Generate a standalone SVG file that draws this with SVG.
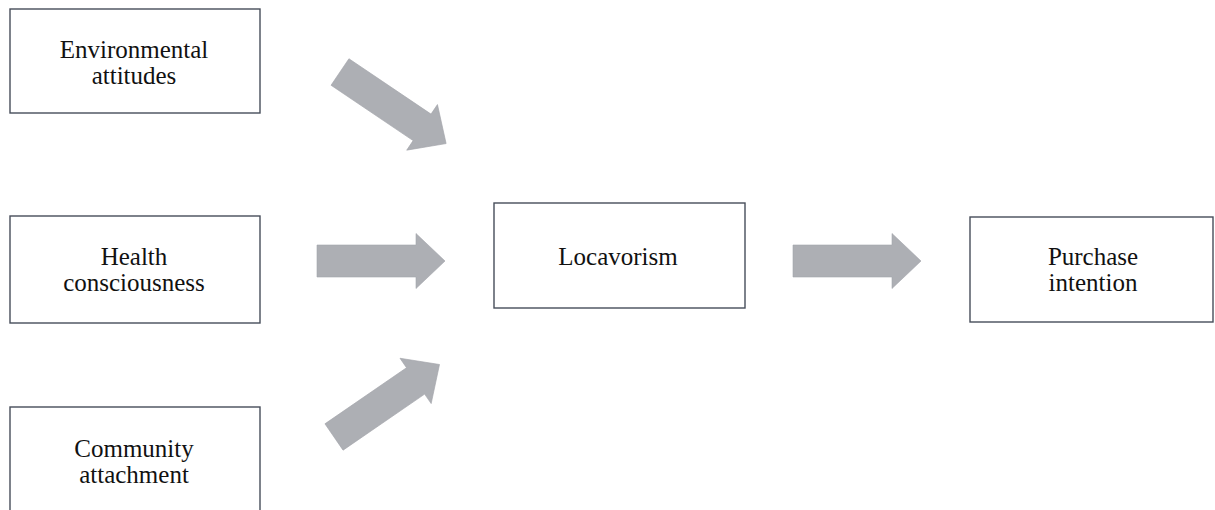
<svg xmlns="http://www.w3.org/2000/svg" xmlns:xlink="http://www.w3.org/1999/xlink" width="1215" height="510" viewBox="0 0 1215 510">
<style>
.box{fill:#ffffff;stroke:#474d5a;stroke-width:1.4}
.lbl{font-family:"Liberation Serif","Times New Roman",serif;font-size:25px;fill:#111111;text-anchor:middle}
.arr{fill:#adafb4;stroke:#a3a5ab;stroke-width:0.6}
</style>
<defs>
<path id="arrow" d="M0,-16 H99 V-27.5 L128,0 L99,27.5 V16 H0 Z"/>
</defs>
<rect width="1215" height="510" fill="#ffffff"/>
<g id="connectors">
<use xlink:href="#arrow" class="arr" transform="translate(340,72) rotate(34)"/>
<use xlink:href="#arrow" class="arr" transform="translate(317,261)"/>
<use xlink:href="#arrow" class="arr" transform="translate(334,437) rotate(-34.5)"/>
<use xlink:href="#arrow" class="arr" transform="translate(793,261)"/>
</g>
<g id="environmental">
<rect class="box" x="10" y="9" width="250" height="104"/>
<text class="lbl" x="134" y="57.5">Environmental</text>
<text class="lbl" x="134" y="83.5">attitudes</text>
</g>
<g id="health">
<rect class="box" x="10" y="216" width="250" height="107"/>
<text class="lbl" x="134" y="264.5">Health</text>
<text class="lbl" x="134" y="290.5">consciousness</text>
</g>
<g id="community">
<rect class="box" x="10" y="407" width="250" height="120"/>
<text class="lbl" x="134" y="457">Community</text>
<text class="lbl" x="134" y="482.5">attachment</text>
</g>
<g id="locavorism">
<rect class="box" x="494" y="203" width="251" height="105"/>
<text class="lbl" x="618" y="264.5">Locavorism</text>
</g>
<g id="purchase">
<rect class="box" x="970" y="217" width="243" height="105"/>
<text class="lbl" x="1093" y="264.5">Purchase</text>
<text class="lbl" x="1093" y="290.5">intention</text>
</g>
</svg>
